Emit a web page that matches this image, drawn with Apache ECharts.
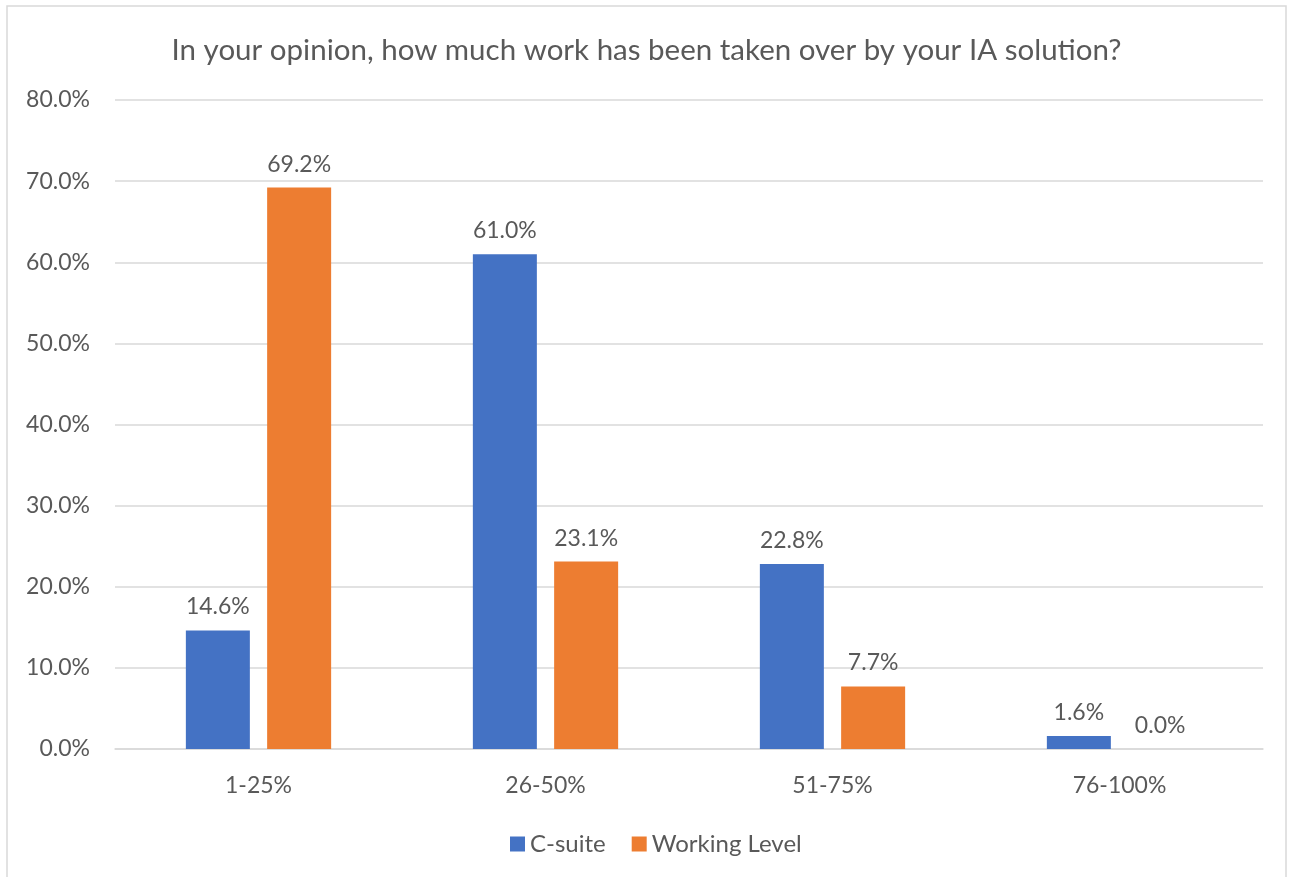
<!DOCTYPE html>
<html>
<head>
<meta charset="utf-8">
<script src="https://cdn.jsdelivr.net/npm/echarts@6/dist/echarts.min.js"></script>
<style>
html,body{margin:0;padding:0;background:#fff;}
#chart{width:1293px;height:877px;}
</style>
</head>
<body>
<div id="chart"></div>
<script>
const titleText = 'In your opinion, how much work has been taken over by your IA solution?';
const categories = ['1-25%', '26-50%', '51-75%', '76-100%'];
const seriesNames = ['C-suite', 'Working Level'];
const cSuite = [14.6, 61.0, 22.8, 1.6];
const workingLevel = [69.2, 23.1, 7.7, 0.0];
const colors = ['#4472C4', '#ED7D31'];

const FONT = 'Lato';
const TXT = '#595959';

const chart = echarts.init(document.getElementById('chart'));
const labelCfg = {
  show: true, position: 'top', distance: 12,
  color: TXT, fontFamily: FONT, fontSize: 23,
  formatter: p => p.value.toFixed(1) + '%'
};
chart.setOption({
  animation: false,
  backgroundColor: '#fff',
  color: colors,
  graphic: [{
    type: 'rect', shape: {x: 7, y: 6, width: 1279, height: 890},
    style: {fill: 'none', stroke: '#d9d9d9', lineWidth: 1.5}, silent: true
  }],
  title: {
    text: titleText, left: 'center', top: 30,
    textStyle: {color: TXT, fontFamily: FONT, fontSize: 29.5, fontWeight: 'normal'}
  },
  legend: {
    data: seriesNames, top: 827, left: 505,
    itemWidth: 15, itemHeight: 15, itemGap: 26, icon: 'rect',
    textStyle: {color: TXT, fontFamily: FONT, fontSize: 24}
  },
  grid: {left: 115, right: 30, top: 100, bottom: 128, containLabel: false},
  xAxis: {
    type: 'category', data: categories,
    axisLine: {lineStyle: {color: '#d9d9d9', width: 1.5}},
    axisTick: {show: false},
    axisLabel: {color: TXT, fontFamily: FONT, fontSize: 23, margin: 25}
  },
  yAxis: {
    type: 'value', min: 0, max: 80, interval: 10,
    axisLine: {show: false}, axisTick: {show: false},
    splitLine: {lineStyle: {color: '#d9d9d9', width: 1.5}},
    axisLabel: {color: TXT, fontFamily: FONT, fontSize: 23, margin: 25,
      formatter: v => v.toFixed(1) + '%'}
  },
  series: [
    {name: seriesNames[0], type: 'bar', data: cSuite, barWidth: 64, barGap: '27%', label: labelCfg},
    {name: seriesNames[1], type: 'bar', data: workingLevel, barWidth: 64, barGap: '27%', label: labelCfg}
  ]
});
</script>
</body>
</html>
